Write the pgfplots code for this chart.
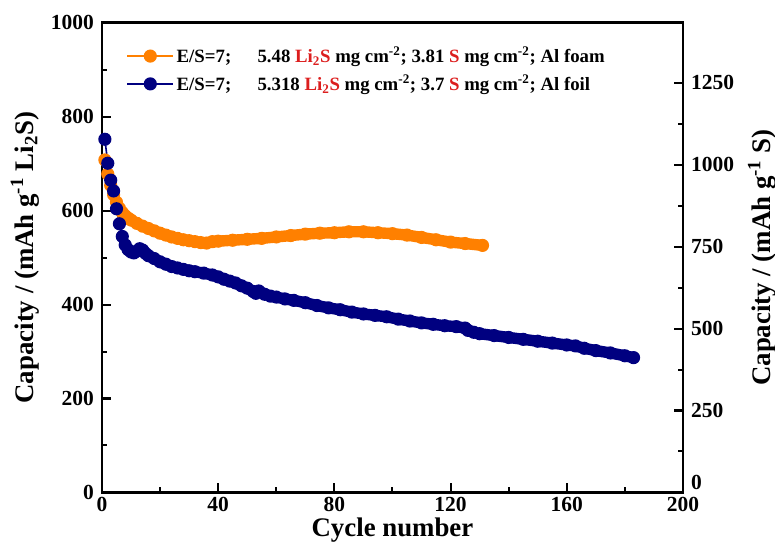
\documentclass[border=0pt]{standalone}
\usepackage{fontspec}
\setmainfont{Liberation Serif}
\usepackage{pgfplots}
\usepackage{pgfplotstable}
\pgfplotsset{compat=1.18}
\definecolor{orgc}{RGB}{255,128,0}
\definecolor{navc}{RGB}{0,0,128}
\definecolor{redc}{RGB}{220,30,30}

\pgfplotstableread{
x y
1 708
2 678
3 654
4 634
5 618
6 605
7 596
8 589
9 584
10 580
12 573
14 567
16 562
18 557
20 552
22 548
24 544
26 541
28 538
30 536
32 534
34 532
36 531
38 534
40 535
45 537
50 539
55 541
60 544
65 547
70 550
75 552
80 553
85 555
90 555
95 553
100 551
105 548
110 543
115 538
120 533
125 530
131 526
}\foam

\pgfplotstableread{
x y
1 752
2 701
3 665
4 642
5 604
6 572
7 545
8 527
9 517
10 512
11 510
12 514
13 519
14 516
15 509
16 504
18 498
20 491
22 486
24 481
26 478
28 475
30 472
32 470
35 467
38 463
40 459
42 454
44 450
46 446
48 440
50 435
52 428
53 424
54 429
56 422
58 418
60 416
63 412
66 409
70 404
74 398
78 393
82 389
86 384
90 380
94 377
98 374
102 369
106 365
110 361
114 358
118 355
122 353
125 350
126 345
128 341
130 338
135 334
140 330
145 326
150 322
155 318
160 314
163 312
166 307
170 302
175 297
180 291
183 287
}\foil

\begin{document}
\begin{tikzpicture}
\pgfplotsset{
  common/.style={
    scale only axis, width=433pt, height=350pt,
    xmin=0, xmax=200,
    tick align=inside,
    major tick length=7pt, minor tick length=4pt,
    axis line style={line width=2pt},
    every tick/.style={black, line width=1.5pt},
    tick label style={font=\bfseries\fontsize{16}{16}\selectfont},
    /pgf/number format/assume math mode=true,
    /pgf/number format/1000 sep={},
  }
}
\begin{axis}[
  common, name=ax,
  ymin=0, ymax=1000,
  tick pos=left,
  xtick={0,40,...,200}, minor x tick num=1,
  ytick={0,200,...,1000}, minor y tick num=1,
  yticklabel style={xshift=-2.5pt},
  xlabel={Cycle number},
  every axis x label/.style={at={(rel axis cs:0.5,0)}, anchor=base, yshift=-32.5pt, font=\bfseries\fontsize{20}{24}\selectfont},
  ylabel={Capacity / (mAh g\textsuperscript{-1} Li\textsubscript{2}S)},
  every axis y label/.style={at={(rel axis cs:0,0.5)}, xshift=-57.4pt, rotate=90, anchor=center, font=\bfseries\fontsize{20}{24}\selectfont},
  legend style={at={(0.035,0.96)}, anchor=north west, draw=none, fill=none,
    font=\bfseries\fontsize{14}{16}\selectfont, row sep=3.5pt,
    cells={anchor=west}},
  legend image code/.code={\draw[mark repeat=2,mark phase=2,#1] plot coordinates {(0cm,0cm) (0.6cm,0cm) (1.2cm,0cm)};},
]
\addplot[orgc, line width=8.5pt, line join=round, line cap=round, restrict x to domain=8:200, forget plot] table[x=x,y=y]{\foam};
\addplot[orgc, line width=1.2pt, mark=*, mark size=4.3pt] table[x=x,y=y]{\foam};
\addlegendentry{E/S=7;\hspace{1.4em}5.48 \textcolor{redc}{Li\textsubscript{2}S} mg cm\textsuperscript{-2}; 3.81 \textcolor{redc}{S} mg cm\textsuperscript{-2}; Al foam}
\addplot[navc, line width=8.5pt, line join=round, line cap=round, restrict x to domain=8:200, forget plot] table[x=x,y=y]{\foil};
\addplot[navc, line width=1.2pt, mark=*, mark size=4.3pt] table[x=x,y=y]{\foil};
\addlegendentry{E/S=7;\hspace{1.4em}5.318 \textcolor{redc}{Li\textsubscript{2}S} mg cm\textsuperscript{-2}; 3.7 \textcolor{redc}{S} mg cm\textsuperscript{-2}; Al foil}
\end{axis}
\begin{axis}[
  common,
  ymin=0, ymax=1433,
  axis x line=none,
  axis y line*=right,
  ytick={0,250,...,1250}, minor y tick num=1,
  yticklabels={\raisebox{15pt}{0},250,500,750,1000,1250},
  yticklabel style={xshift=2.5pt},
  ylabel={Capacity / (mAh g\textsuperscript{-1} S)},
  every axis y label/.style={at={(rel axis cs:1,0.5)}, xshift=59pt, rotate=90, anchor=center, font=\bfseries\fontsize{20}{24}\selectfont},
]
\end{axis}
\pgfresetboundingbox
\path ([shift={(-76pt,-39.5pt)}]ax.south west) rectangle ([shift={(68.6pt,17pt)}]ax.north east);
\end{tikzpicture}
\end{document}
